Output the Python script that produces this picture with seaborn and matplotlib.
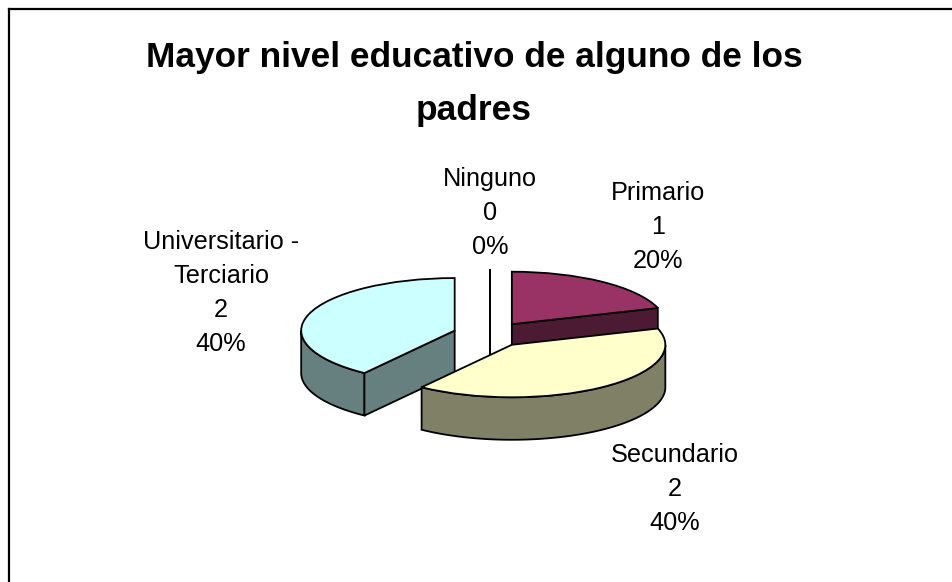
#!/usr/bin/env python3

import numpy as np
import matplotlib as mpl
mpl.use('Agg')
import matplotlib.pyplot as plt
import seaborn as sns
from matplotlib.patches import Polygon

categories = ['Ninguno', 'Primario', 'Secundario', 'Universitario -\nTerciario']
counts = [0, 1, 2, 2]
slice_colors = ['#FFFFFF', '#993366', '#FFFFCC', '#CCFFFF']
title = 'Mayor nivel educativo de alguno de los\npadres'

W, H = 952, 582
# pie geometry in pixels
CX, CY = 490, 334.5
RX, RY = 153.5, 52.5
DEPTH = 42.5 / RY
EXPLODE = 0.242

label_pos = [(490, 213), (658, 227), (675, 489), (221, 293)]
draw_order = [0, 1, 3, 2]

sns.set_theme(style='white')
plt.rcParams['font.family'] = ['Liberation Sans', 'DejaVu Sans']


def pt(theta, cx, cy, r=1.0):
    # theta is clockwise from 12 o'clock, degrees
    t = np.radians(theta)
    return cx + r * np.sin(t), cy + r * np.cos(t)


def side_faces(t1, t2, cx, cy):
    faces = []
    lo, hi = max(t1, 90), min(t2, 270)
    if hi > lo:
        tt = np.linspace(lo, hi, 80)
        x, y = pt(tt, cx, cy)
        faces.append(np.r_[np.c_[x, y], np.c_[x, y - DEPTH][::-1]])
    for t, sign in ((t1, -1), (t2, 1)):
        if sign * np.sin(np.radians(t)) >= 0 and not (t2 > t1 and np.isclose(np.sin(np.radians(t)), 0)):
            x, y = pt(t, cx, cy)
            faces.append(np.array([[cx, cy], [x, y], [x, y - DEPTH], [cx, cy - DEPTH]]))
    return faces


fig = plt.figure(figsize=(W / 100, H / 100), dpi=100)
fig.patch.set_facecolor('white')
left, top = 9, 9
ax = fig.add_axes([left / W, 0, (W - left) / W, (H - top) / H])

wedges, _ = ax.pie(counts, colors=slice_colors, startangle=90, counterclock=False,
                   explode=[EXPLODE] * len(counts), frame=True,
                   wedgeprops={'edgecolor': 'black', 'linewidth': 1.3})
ax.set_aspect('auto')
ax.set_xlim((left - CX) / RX, (W - CX) / RX)
ax.set_ylim((CY - H) / RY, (CY - top) / RY)
ax.set_xticks([])
ax.set_yticks([])
sns.despine(ax=ax, top=False, left=False, right=True, bottom=True)
for side in ('top', 'left'):
    ax.spines[side].set_color('black')
    ax.spines[side].set_linewidth(1.6)

bounds = np.r_[0, np.cumsum(counts)] / sum(counts) * 360
z = 2
for i in draw_order:
    t1, t2 = bounds[i], bounds[i + 1]
    mid = (t1 + t2) / 2
    cx, cy = pt(mid, 0, 0, EXPLODE)
    dark = tuple(0.5 * c for c in mpl.colors.to_rgb(slice_colors[i]))
    for face in side_faces(t1, t2, cx, cy):
        ax.add_patch(Polygon(face, closed=True, facecolor=dark, edgecolor='black',
                             linewidth=1.3, zorder=z))
    wedges[i].set_zorder(z + 1)
    z += 2

total = sum(counts)
for name, n, (px, py) in zip(categories, counts, label_pos):
    fig.text(px / W, 1 - py / H, f'{name}\n{n}\n{n * 100 // total}%', ha='center', va='center',
             fontsize=18.2, linespacing=1.52, color='black')

fig.text(474 / W, 1 - 84 / H, title, ha='center', va='center', fontsize=25.4,
         fontweight='bold', linespacing=1.78, color='black')

fig.savefig('out.png', dpi=100, facecolor='white')
